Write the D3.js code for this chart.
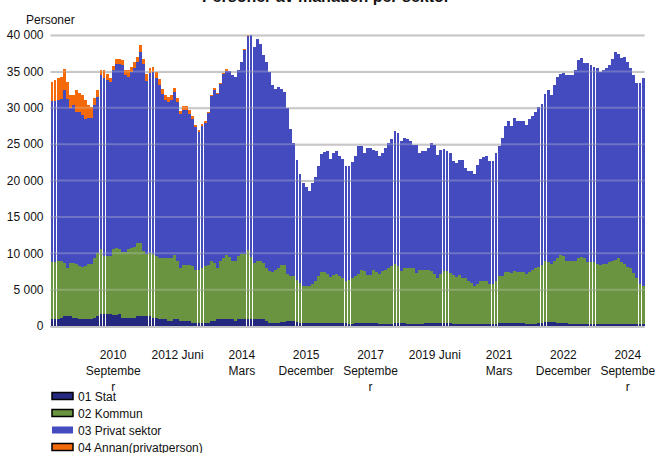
<!DOCTYPE html>
<html><head><meta charset="utf-8">
<script src="https://cdn.jsdelivr.net/npm/d3@7"></script>
<style>
body{margin:0;background:#fff;}
svg{display:block;font-family:"Liberation Sans",Arial,sans-serif;}
</style></head>
<body><svg id="c" width="655" height="453"></svg>
<script>
const startYear = 2009;
const monthNames = ["Januari","Februari","Mars","April","Maj","Juni","Juli","Augusti","September","Oktober","November","December"];

const stat = [910,910,910,1050,1330,1330,1330,1140,1140,910,910,910,910,910,1140,1330,1600,1690,1690,1690,1510,
1510,1600,1050,1050,1050,1050,1050,1330,1330,1330,1330,1330,1140,1140,910,910,910,690,690,910,
910,690,690,690,690,460,460,370,370,370,460,690,690,910,910,910,910,910,910,690,
910,910,910,910,910,910,910,910,910,690,460,460,460,460,600,600,690,690,690,550,
460,370,370,370,370,370,370,370,460,460,370,370,370,370,370,370,320,320,460,460,460,
460,460,460,460,370,320,320,320,320,320,370,370,370,370,320,320,320,320,320,320,
460,460,460,460,370,370,370,370,370,320,320,320,320,320,320,320,320,320,320,320,
320,320,320,320,370,460,370,370,370,370,370,370,370,320,320,320,320,370,370,550,550,
550,550,460,460,370,370,320,320,320,320,320,320,320,320,320,320,320,320,320,320,
320,320,320,320,320,320,320,320,320,230,230];

const kommun = [7820,7820,8090,7950,7310,6670,7310,7500,7410,7270,7180,7270,7550,7550,8230,8730,9050,7910,7910,7910,9140,
9230,9050,9140,9140,9600,9690,9780,10100,10100,8950,8590,8730,8690,8460,8370,8370,8370,8590,8590,8830,
8000,7220,7680,7680,7680,7720,7170,7260,7540,7810,7910,8310,7950,7000,8000,8460,8830,8640,8090,8310,
8690,9010,9010,9470,8640,7730,8090,8090,7730,7310,7080,6990,7170,7450,7770,7770,6510,6120,6120,5710,
5440,5120,5070,5070,5430,5800,6440,7030,6900,6720,6350,6620,6810,6440,6170,5800,5940,6310,6350,6630,7270,
7080,6530,6530,7170,7080,6860,7220,7310,7590,7860,8180,7810,7170,7540,7590,7590,7590,6990,7310,7310,
7170,7170,7080,6720,6170,6810,7130,7130,6900,6670,6400,6630,6220,6220,5850,5530,5170,5480,5850,5850,
5850,5390,5480,5850,6440,6440,6990,6990,6900,7170,6990,6990,6990,6860,7040,7310,7590,7800,8000,8360,8180,
7950,8450,8910,9280,9280,8630,8680,8680,8680,8960,9230,8960,8500,8500,8500,8230,8050,8230,8230,8500,
8590,8780,8960,8500,8230,7730,7590,6900,6220,5480,5210];

const privat = [22220,22220,22080,22220,23810,23220,21300,21760,20840,21210,20940,20250,20110,20110,21030,21480,23860,24450,24200,24000,24550,
25280,25370,25690,24320,23630,24230,24600,24820,26280,25740,23770,24680,25050,24450,23860,22580,21800,21570,21800,22490,
21940,21210,21340,21340,20750,20300,19710,19020,19650,19740,20840,22630,23770,23950,24370,25280,25370,25550,25510,25280,
25600,26420,28020,29470,30450,29710,30450,29760,28610,28340,27430,25690,24960,24960,24220,23860,22830,20290,18380,16600,
15030,14170,13710,13080,13810,14260,15130,16190,16600,16820,16270,16730,16820,16500,16450,15770,15680,15860,16590,17680,17040,
16270,17470,17470,16600,16550,16220,16180,16830,17280,17560,18290,18380,17920,17920,17790,17550,17000,17600,16180,16370,
16370,16830,17650,17730,16910,17050,16870,16500,16540,15730,15720,15910,16320,15180,15180,15500,15440,16320,16820,17010,
17230,17010,16920,17640,17960,18970,20200,20880,20290,20990,20880,20880,20880,20470,21120,21300,21570,21900,22160,22950,23720,
23270,24140,24870,24910,25180,25510,25510,25510,26200,27290,27290,26880,27340,27060,26830,26880,26550,26650,26880,27060,
27790,28560,28110,28020,28430,28250,27560,27290,26870,27700,28660];

const annan = [2550,2880,3070,3020,2880,2280,1830,1370,3060,2610,2740,2650,1830,1600,910,860,690,1150,800,450,590,
640,640,690,690,920,590,820,730,920,640,960,690,680,830,820,730,690,650,690,540,
460,450,550,550,590,320,310,230,230,320,270,140,360,230,180,180,220,0,0,0,
0,0,150,150,0,0,0,0,0,0,0,0,0,0,0,0,0,0,0,0,
0,0,0,0,0,0,0,0,0,0,0,0,0,0,0,0,0,0,0,0,0,
0,0,0,0,0,0,0,0,0,0,0,0,0,0,0,0,0,0,0,0,
0,0,0,0,0,0,0,0,0,0,0,0,0,0,0,0,0,0,0,0,
0,0,0,0,0,0,0,0,0,0,0,0,0,0,0,0,0,0,0,0,0,
0,0,0,0,0,0,0,0,0,0,0,0,0,0,0,0,0,0,0,0,
0,0,0,0,0,0,0,0,0,0,0];

const seriesNames = ["01 Stat","02 Kommun","03 Privat sektor","04 Annan(privatperson)"];
const seriesColors = ["#24287f","#6a9440","#444bbf","#f46a0a"];
const yTicks = [0,5000,10000,15000,20000,25000,30000,35000,40000];
const tickCategories = ["2010 September","2012 Juni","2014 Mars","2015 December","2017 September","2019 Juni","2021 Mars","2022 December","2024 September"];
const tickLines = [["2010","Septembe","r"],["2012 Juni"],["2014","Mars"],["2015","December"],["2017","Septembe","r"],["2019 Juni"],["2021","Mars"],["2022","December"],["2024","Septembe","r"]];
const titleText = "Personer av månaden per sektor";
const yLabel = "Personer";

(function(){
const n = Math.min(stat.length, kommun.length, privat.length, annan.length);
const categories = d3.range(n).map(i => (startYear + Math.floor(i/12)) + " " + monthNames[i%12]);
const keys = ["stat","kommun","privat","annan"];
const table = categories.map((c,i)=>({cat:c, stat:stat[i], kommun:kommun[i], privat:privat[i], annan:annan[i]}));

const svg = d3.select("#c");
const pL = 50.5, pR = 644.5, pT = 35, pB = 326;
const x = d3.scaleBand().domain(categories).range([pL,pR]).paddingInner(0.06).paddingOuter(0);
const y = d3.scaleLinear().domain([0,40000]).range([pB,pT]);

const yAxis = d3.axisLeft(y).tickValues(yTicks).tickSize(-(pR-pL)).tickPadding(7)
  .tickFormat(d => d3.format(",")(d).replace(/,/g," "));
const gy = svg.append("g").attr("transform",`translate(${pL},0)`).call(yAxis);
gy.select(".domain").remove();
gy.selectAll(".tick line").attr("stroke","#c4c4c4").attr("stroke-width",2);
gy.selectAll(".tick text").attr("font-size",12).attr("fill","#111");

const stack = d3.stack().keys(keys)(table);
svg.append("g").selectAll("g").data(stack).join("g")
  .attr("fill",(d,i)=>seriesColors[i])
  .selectAll("rect").data(d=>d).join("rect")
  .attr("shape-rendering","crispEdges")
  .attr("x",d=>x(d.data.cat))
  .attr("width",x.bandwidth())
  .attr("y",d=>y(d[1]))
  .attr("height",d=>Math.max(0,y(d[0])-y(d[1])));

svg.append("g").selectAll("line").data(yTicks.slice(1)).join("line")
  .attr("x1",pL).attr("x2",pR).attr("y1",d=>y(d)).attr("y2",d=>y(d))
  .attr("stroke","#d0d0d0").attr("stroke-opacity",0.3).attr("stroke-width",2);
svg.append("line").attr("x1",pL).attr("x2",pR).attr("y1",pB+1).attr("y2",pB+1)
  .attr("stroke","#c4c4c4").attr("stroke-width",2);

const xAxis = d3.axisBottom(x).tickValues(tickCategories.filter(c=>categories.includes(c))).tickSize(0).tickPadding(0);
const gx = svg.append("g").attr("transform",`translate(0,${pB})`).call(xAxis);
gx.select(".domain").remove();
gx.selectAll(".tick text").each(function(d){
  const t = d3.select(this);
  t.text(null).attr("font-size",12).attr("fill","#111").attr("y",0).attr("dy",null);
  const lines = tickLines[tickCategories.indexOf(d)];
  lines.forEach((ln,k)=>{
    t.append("tspan").attr("x",0).attr("y",33 + k*16).text(ln);
  });
});

svg.append("text").attr("x",326).attr("y",1.5).attr("text-anchor","middle")
  .attr("font-size",16).attr("font-weight","bold").attr("fill","#111").text(titleText);
svg.append("text").attr("x",26).attr("y",24).attr("font-size",12).attr("fill","#111").text(yLabel);

const lg = svg.append("g");
seriesNames.forEach((nm,i)=>{
  const cy = 396 + i*17;
  const r = lg.append("rect").attr("x",52).attr("y",cy-3.5).attr("width",21).attr("height",7)
    .attr("fill",seriesColors[i]);
  if(i!==2) r.attr("stroke","#000").attr("stroke-width",1.5);
  lg.append("text").attr("x",78).attr("y",cy+4.5).attr("font-size",12).attr("fill","#111").text(nm);
});
})();
</script></body></html>
